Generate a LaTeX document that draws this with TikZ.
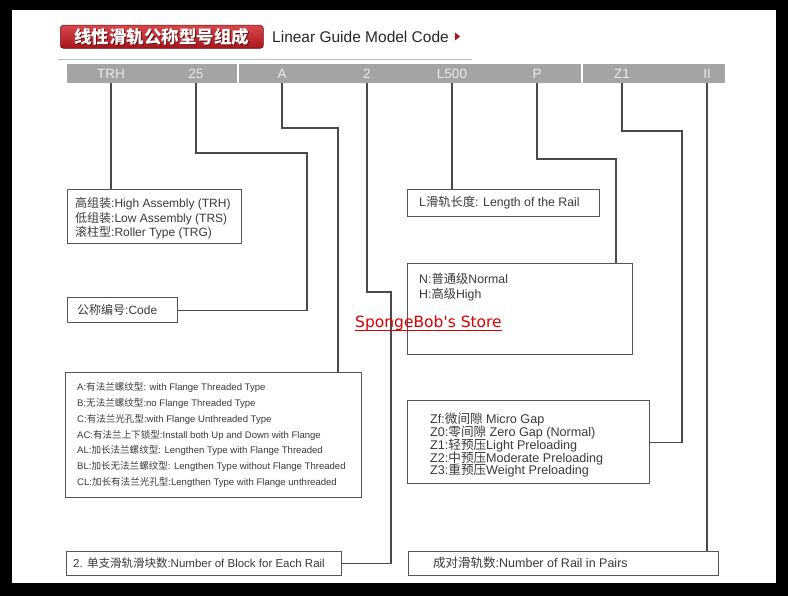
\documentclass[tikz,border=0pt]{standalone}
\usepackage{fontspec}
\usetikzlibrary{calc}
\setmainfont{Liberation Sans}
\newfontfamily\cjk{Noto Sans CJK SC}
\newfontfamily\wmfont{DejaVu Sans}
\newcommand\zh[1]{{\cjk #1}}
\definecolor{linec}{HTML}{4A4A4A}
\definecolor{boxc}{HTML}{555555}
\definecolor{txtc}{HTML}{3A3A3A}
\definecolor{barc}{HTML}{A4A4A4}
\definecolor{hdrtop}{HTML}{D8474A}
\definecolor{hdrbot}{HTML}{A8161C}
\begin{document}
\lineskiplimit=-30pt
\lineskip=0pt
\begin{tikzpicture}[x=1pt,y=-1pt,
  conn/.style={draw=linec,line width=1.2pt},
  boxs/.style={draw=boxc,line width=1.4pt,fill=white,anchor=north west,inner sep=0pt},
  btxt/.style={anchor=west,text=txtc,inner sep=0pt,align=left},
  bartxt/.style={anchor=base,text=white!92!black,font=\fontsize{13.5}{13.5}\selectfont,inner sep=0pt}]
\useasboundingbox (0,0) rectangle (788,596);
\fill[black] (0,0) rectangle (788,596);
\fill[white] (12,10) rectangle (776,583);
% header
\node[anchor=north west,rounded corners=3pt,top color=hdrtop,bottom color=hdrbot,draw=hdrbot!70!black,line width=0.6pt,minimum width=203pt,minimum height=23pt,inner sep=0pt] (hdr) at (60,25) {};
\node[text=hdrbot!60!black,font=\cjk\bfseries\fontsize{17.5}{17.5}\selectfont] (hdrs) at ($(hdr.center)+(0.8,0.8)$) {线性滑轨公称型号组成};
\node[text=white,font=\cjk\bfseries\fontsize{17.5}{17.5}\selectfont] (hdrt) at (hdr.center) {线性滑轨公称型号组成};
\node[anchor=west,inner sep=0pt,text=black!85,font=\fontsize{15.5}{15.5}\selectfont] (eng) at (272,37) {Linear Guide Model Code};
\fill[hdrbot] (455,32.5) -- (460,36.5) -- (455,40.5) -- cycle;
\draw[black!25,line width=0.8pt] (58,59) -- (472,59);
% bar
\node[fill=barc,anchor=north west,minimum width=658pt,minimum height=19pt,inner sep=0pt] (bar) at (67,64) {};
\draw[white,line width=1.3pt] (238,64) -- (238,83) (582,64) -- (582,83);
\node[bartxt] (t1) at (111,78.5) {TRH};
\node[bartxt] (t2) at (196,78.5) {25};
\node[bartxt] (t3) at (282,78.5) {A};
\node[bartxt] (t4) at (367,78.5) {2};
\node[bartxt] (t5) at (452,78.5) {L500};
\node[bartxt] (t6) at (537,78.5) {P};
\node[bartxt] (t7) at (622,78.5) {Z1};
\node[bartxt] (t8) at (707,78.5) {II};
% boxes
\node[boxs,minimum width=174pt,minimum height=54pt] (bTRH) at (67,189) {};
\node[btxt,anchor=north west,font=\fontsize{12}{14.5}\selectfont] (xTRH) at (75,197.5) {\zh{高组装}:High Assembly (TRH)\\\zh{低组装}:Low Assembly (TRS)\\\zh{滚柱型}:Roller Type (TRG)};
\node[boxs,minimum width=110pt,minimum height=25pt] (bCode) at (67,297) {};
\node[btxt,font=\fontsize{12}{12}\selectfont] (xCode) at (77,309.5) {\zh{公称编号}:Code};
\node[boxs,minimum width=296pt,minimum height=125pt] (bA) at (65,372) {};
\node[btxt,anchor=north west,font=\fontsize{9.55}{15.8}\selectfont] (xA) at (77,382.5) {A:\zh{有法兰螺纹型}: with Flange Threaded Type\\B:\zh{无法兰螺纹型}:no Flange Threaded Type\\C:\zh{有法兰光孔型}:with Flange Unthreaded Type\\AC:\zh{有法兰上下锁型}:Install both Up and Down with Flange\\AL:\zh{加长法兰螺纹型}: Lengthen Type with Flange Threaded\\BL:\zh{加长无法兰螺纹型}: Lengthen Type without Flange Threaded\\CL:\zh{加长有法兰光孔型}:Lengthen Type with Flange unthreaded};
\node[boxs,minimum width=275pt,minimum height=24pt] (b2) at (66,551) {};
\node[btxt,font=\fontsize{11.5}{12}\selectfont] (x2) at (73,563) {2. \zh{单支滑轨滑块数}:Number of Block for Each Rail};
\node[boxs,minimum width=192pt,minimum height=27pt] (bL) at (407,189) {};
\node[btxt,font=\fontsize{12.3}{12}\selectfont] (xL) at (419,202.5) {L\zh{滑轨长度}: Length of the Rail};
\node[boxs,minimum width=225pt,minimum height=91pt] (bN) at (407,263) {};
\node[btxt,anchor=north west,font=\fontsize{12.3}{15}\selectfont] (xN) at (419,273) {N:\zh{普通级}Normal\\H:\zh{高级}High};
\node[boxs,minimum width=242pt,minimum height=83pt] (bZ) at (407,400) {};
\node[btxt,anchor=north west,font=\fontsize{12.6}{12.8}\selectfont] (xZ) at (430,413) {Zf:\zh{微间隙} Micro Gap\\Z0:\zh{零间隙} Zero Gap (Normal)\\Z1:\zh{轻预压}Light Preloading\\Z2:\zh{中预压}Moderate Preloading\\Z3:\zh{重预压}Weight Preloading};
\node[boxs,minimum width=310pt,minimum height=24pt] (bR) at (408,551) {};
\node[btxt,font=\fontsize{12.5}{12}\selectfont] (xR) at (433,563) {\zh{成对滑轨数}:Number of Rail in Pairs};
% bend points
\coordinate (k2a) at (307,153);
\coordinate (k3a) at (338,128);
\coordinate (k4a) at (391,292);
\coordinate (k6a) at (616,159);
\coordinate (k7a) at (682,131);
% connectors
\draw[conn] (t1 |- bar.south) -- (t1 |- bTRH.north);
\draw[conn] (t2 |- bar.south) |- (k2a) |- (bCode.east);
\draw[conn] (t3 |- bar.south) |- (k3a) -- (k3a |- bA.north);
\draw[conn] (t4 |- bar.south) |- (k4a) |- (b2.east);
\draw[conn] (t5 |- bar.south) -- (t5 |- bL.north);
\draw[conn] (t6 |- bar.south) |- (k6a) -- (k6a |- bN.north);
\draw[conn] (t7 |- bar.south) |- (k7a) |- (bZ.east);
\draw[conn] (t8 |- bar.south) -- (t8 |- bR.north);
% watermark
\node[anchor=base west,inner sep=0pt,text=red!85!black,font=\wmfont\fontsize{15.5}{15.5}\selectfont] (wm) at (355,327) {SpongeBob's Store};
\draw[red!85!black,line width=1.2pt] ($(wm.base west)+(0,3.5)$) -- ($(wm.base east)+(0,3.5)$);
\end{tikzpicture}
\end{document}
